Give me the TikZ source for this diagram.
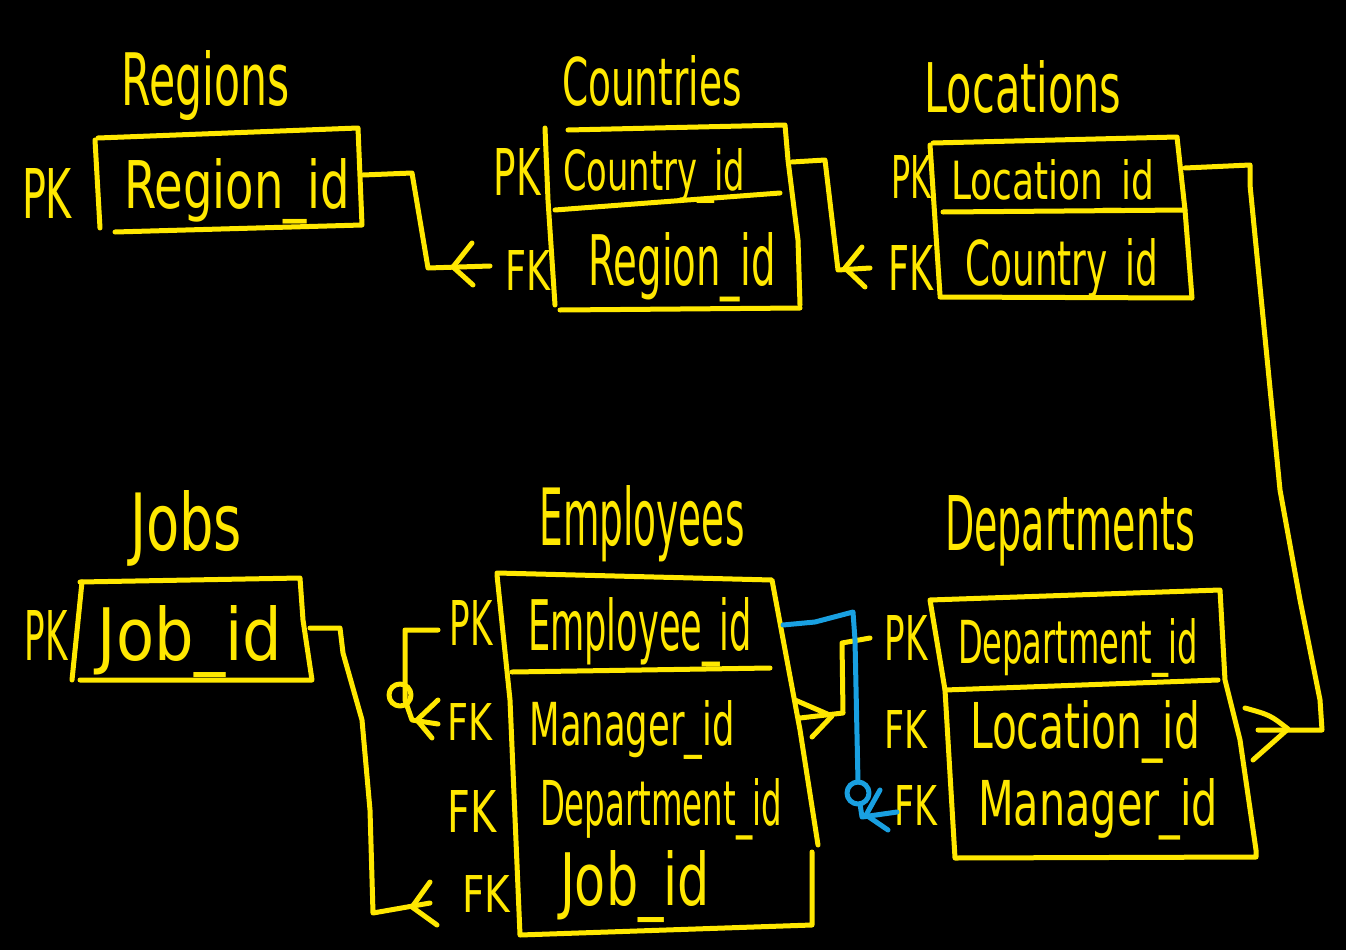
\documentclass[tikz,border=0pt]{standalone}
\usepackage{fontspec}
\setmainfont{DejaVu Sans}
\usepackage{graphicx}
\definecolor{hy}{RGB}{255,232,0}
\definecolor{hb}{RGB}{25,160,225}
\newcommand{\fw}[3]{\resizebox{#1pt}{#2pt}{#3}}
\tikzset{
 ink/.style={draw=hy,line width=5pt,line cap=round,line join=round},
 bink/.style={draw=hb,line width=5pt,line cap=round,line join=round},
 lbl/.style={text=hy,inner sep=0pt,anchor=base,font=\fontsize{40}{40}\selectfont},
}
\begin{document}
\begin{tikzpicture}[x=1pt,y=-1pt]
\fill[black] (0,0) rectangle (1346,950);
% ---------- texts ----------
\node[lbl] (tReg) at (206,105) {\fw{168}{55}{Regions}};
\node[lbl] (rReg) at (237,208) {\fw{225}{50}{Region\_id}};
\node[lbl] (pReg) at (47,218) {\fw{50}{50}{PK}};
\node[lbl] (tCou) at (652,105) {\fw{180}{50}{Countries}};
\node[lbl] (rCou1) at (654,190) {\fw{182}{42}{Country\_id}};
\node[lbl] (rCou2) at (682,285) {\fw{187}{53}{Region\_id}};
\node[lbl] (pCou) at (517,195) {\fw{47}{47}{PK}};
\node[lbl] (fCou) at (528,290) {\fw{45}{40}{FK}};
\node[lbl] (tLoc) at (1023,112) {\fw{197}{52}{Locations}};
\node[lbl] (rLoc1) at (1053,199) {\fw{203}{40}{Location\_id}};
\node[lbl] (rLoc2) at (1062,285) {\fw{193}{47}{Country\_id}};
\node[lbl] (pLoc) at (911,198) {\fw{40}{43}{PK}};
\node[lbl] (fLoc) at (911,290) {\fw{45}{45}{FK}};
\node[lbl] (tJob) at (186,550) {\fw{112}{60}{Jobs}};
\node[lbl] (rJob) at (190,660) {\fw{184}{55}{Job\_id}};
\node[lbl] (pJob) at (46,660) {\fw{43}{50}{PK}};
\node[lbl] (tEmp) at (642,545) {\fw{205}{60}{Employees}};
\node[lbl] (rEmp1) at (640,650) {\fw{224}{53}{Employee\_id}};
\node[lbl] (rEmp2) at (632,745) {\fw{205}{45}{Manager\_id}};
\node[lbl] (rEmp3) at (661,825) {\fw{242}{47}{Department\_id}};
\node[lbl] (rEmp4) at (635,905) {\fw{150}{55}{Job\_id}};
\node[lbl] (pEmp) at (471,645) {\fw{43}{45}{PK}};
\node[lbl] (fEmp1) at (470,740) {\fw{45}{37}{FK}};
\node[lbl] (fEmp2) at (472,832) {\fw{49}{42}{FK}};
\node[lbl] (fEmp3) at (486,912) {\fw{48}{37}{FK}};
\node[lbl] (tDep) at (1070,550) {\fw{250}{55}{Departments}};
\node[lbl] (rDep1) at (1078,663) {\fw{240}{45}{Department\_id}};
\node[lbl] (rDep2) at (1085,748) {\fw{230}{48}{Location\_id}};
\node[lbl] (rDep3) at (1098,825) {\fw{240}{47}{Manager\_id}};
\node[lbl] (pDep) at (906,660) {\fw{43}{45}{PK}};
\node[lbl] (fDep1) at (906,748) {\fw{43}{38}{FK}};
\node[lbl] (fDep2) at (916,825) {\fw{43}{40}{FK}};
% ---------- boxes ----------
% Regions
\draw[ink] (98,138) -- (358,128) -- (362,225) -- (115,232);
\draw[ink] (95,140) -- (100,228);
% Countries
\draw[ink] (568,130) -- (785,125) -- (788,160) -- (798,240) -- (800,305);
\draw[ink] (800,308) -- (560,310);
\draw[ink] (545,128) -- (548,200) -- (555,305);
\draw[ink] (555,210) -- (780,193);
% Locations
\draw[ink] (933,143) -- (1177,137) -- (1185,210) -- (1192,298) -- (940,297);
\draw[ink] (930,145) -- (935,220) -- (940,295);
\draw[ink] (943,212) -- (1185,210);
% Jobs
\draw[ink] (80,582) -- (300,578) -- (303,620) -- (312,680) -- (80,680);
\draw[ink] (82,582) -- (72,680);
% Employees
\draw[ink] (497,573) -- (772,580) -- (800,730) -- (818,845);
\draw[ink] (497,575) -- (510,700) -- (520,935) -- (812,925) -- (812,852);
\draw[ink] (512,672) -- (770,668);
% Departments
\draw[ink] (930,600) -- (1220,590) -- (1225,680) -- (1240,740) -- (1256,850) -- (1256,857) -- (955,858) -- (945,690) -- cycle;
\draw[ink] (945,690) -- (1218,680);
% ---------- connectors ----------
% Regions -> Countries
\draw[ink] (363,175) -- (412,173) -- (428,268) -- (490,266);
\draw[ink] (472,243) -- (453,267) -- (473,285);
% Countries -> Locations
\draw[ink] (792,162) -- (825,160) -- (838,270) -- (870,268);
\draw[ink] (862,247) -- (845,268) -- (865,287);
% Locations -> Departments
\draw[ink] (1185,168) -- (1250,165) -- (1250,185) -- (1280,490) -- (1300,600) -- (1320,700) -- (1322,730) -- (1258,730);
\draw[ink] (1245,708) .. controls (1270,715) .. (1288,729) -- (1253,760);
% Employees self reference
\draw[ink] (438,630) -- (405,630) -- (405,700) -- (412,720) -- (438,724);
\draw[ink] (400,695) circle (11);
\draw[ink] (438,700) -- (417,720) -- (432,738);
% Departments PK -> Employees (department)
\draw[ink] (870,638) -- (842,643) -- (843,713) -- (800,718);
\draw[ink] (795,700) -- (832,716) -- (812,737);
% Employees PK -> Departments Manager_id (blue)
\draw[bink] (783,625) -- (815,622) -- (853,612) -- (855,640) -- (858,782);
\draw[bink] (858,793) circle (11);
\draw[bink] (860,804) -- (862,817) -- (897,812);
\draw[bink] (880,790) -- (866,815) -- (888,830);
% Jobs -> Employees
\draw[ink] (310,628) -- (340,628) -- (343,653) -- (362,720) -- (370,810) -- (373,913) -- (430,903);
\draw[ink] (430,882) -- (412,907) -- (437,925);
\end{tikzpicture}
\end{document}
